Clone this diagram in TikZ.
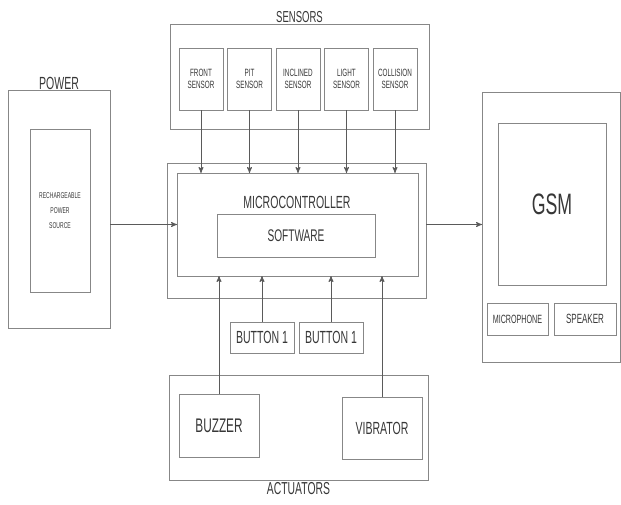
\documentclass[tikz,border=0pt]{standalone}
\usepackage[svgnames]{xcolor}
\usepackage{fontspec}
\setmainfont[FakeStretch=0.6]{Liberation Sans}
\usepackage{tikz}
\usetikzlibrary{shapes,arrows}
\definecolor{boxGrey}{RGB}{135,135,135}
\definecolor{lineGrey}{RGB}{90,90,90}
\definecolor{textGrey}{RGB}{55,55,55}
\newcommand{\fsz}[2]{\fontsize{#1}{#2}\selectfont}

\begin{document}
\begin{tikzpicture}[auto]%
  \tikzset{box/.style={draw=boxGrey, line width=0.6pt, rectangle, align=center},
           sensor box/.style={box, minimum width=1.1cm, minimum height=1.55cm, font=\fsz{7.5}{9}},
           thin arrow/.style={draw, -stealth', line width=0.6pt, lineGrey}}
  \tikzstyle{every node}=[text=textGrey, inner sep=0pt, outer sep=0pt]

  \useasboundingbox (0,0) rectangle (15.525,-12.6);

  % sensors
  \node[box, minimum width=6.475cm, minimum height=2.625cm] at (7.4875,-1.9125) (SENS) {};
  \node[anchor=south, inner sep=1pt, font=\fsz{11.3}{13}] at (SENS.north) {SENSORS};
  \node[sensor box] at (5.025,-1.975) (FRONT) {FRONT\\SENSOR};
  \node[sensor box] at (6.2375,-1.975) (PIT) {PIT\\SENSOR};
  \node[sensor box] at (7.45,-1.975) (INCL) {INCLINED\\SENSOR};
  \node[sensor box] at (8.6625,-1.975) (LIGHT) {LIGHT\\SENSOR};
  \node[sensor box] at (9.875,-1.975) (COLL) {COLLISION\\SENSOR};

  % microcontroller
  \node[box, minimum width=6.475cm, minimum height=3.375cm] at (7.4125,-5.7625) (MCU) {};
  \node[box, minimum width=6.025cm, minimum height=2.575cm] at (7.4375,-5.6125) (MCUin) {};
  \node[font=\fsz{12.5}{14}] at (7.425,-5.05) (MCUlbl) {MICROCONTROLLER};
  \node[box, minimum width=3.95cm, minimum height=1.075cm, font=\fsz{12}{14}] at (7.4,-5.8875) (SW) {SOFTWARE};
  \node[box, minimum width=1.6cm, minimum height=0.775cm, font=\fsz{12.5}{14}] at (6.55,-8.4375) (BTNa) {BUTTON 1};
  \node[box, minimum width=1.6cm, minimum height=0.775cm, font=\fsz{12.5}{14}] at (8.275,-8.4375) (BTNb) {BUTTON 1};

  % actuators
  \node[box, minimum width=6.475cm, minimum height=2.625cm] at (7.4625,-10.6875) (ACT) {};
  \node[anchor=north, inner sep=2pt, font=\fsz{12.3}{14}] at (ACT.south) {ACTUATORS};
  \node[box, minimum width=2cm, minimum height=1.575cm, font=\fsz{14}{16}] at (5.475,-10.6375) (BUZ) {BUZZER};
  \node[box, minimum width=2cm, minimum height=1.55cm, font=\fsz{12.5}{14}] at (9.55,-10.7) (VIB) {VIBRATOR};

  % power
  \node[box, minimum width=2.55cm, minimum height=5.95cm] at (1.475,-5.225) (PWR) {};
  \node[anchor=south, inner sep=0.5pt, font=\fsz{12.5}{14}] at (PWR.north) {POWER};
  \node[box, minimum width=1.5cm, minimum height=4.075cm, font=\fsz{6}{10.5}] at (1.5,-5.2625) (RPS) {RECHARGEABLE\\POWER\\SOURCE};

  % gsm
  \node[box, minimum width=3.45cm, minimum height=6.75cm] at (13.775,-5.675) (GSMo) {};
  \node[box, minimum width=2.7cm, minimum height=4.05cm, font=\fsz{21}{24}] at (13.8,-5.1) (GSM) {GSM};
  \node[box, minimum width=1.525cm, minimum height=0.8cm, font=\fsz{8.5}{10}] at (12.9375,-7.975) (MIC) {MICROPHONE};
  \node[box, minimum width=1.55cm, minimum height=0.8cm, font=\fsz{9.5}{11}] at (14.625,-7.975) (SPK) {SPEAKER};

  \foreach \s in {FRONT,PIT,INCL,LIGHT,COLL}
    \path[thin arrow] (\s.south) -- (\s.south |- MCUin.north);
  \foreach \b in {BTNa,BTNb,BUZ,VIB}
    \path[thin arrow] (\b.north) -- (\b.north |- MCUin.south);
  \path[thin arrow] (PWR.east |- MCUin.west) -- (MCUin.west);
  \path[thin arrow] (MCU.east |- MCUin.east) -- (GSMo.west |- MCUin.east);
\end{tikzpicture}
\end{document}
